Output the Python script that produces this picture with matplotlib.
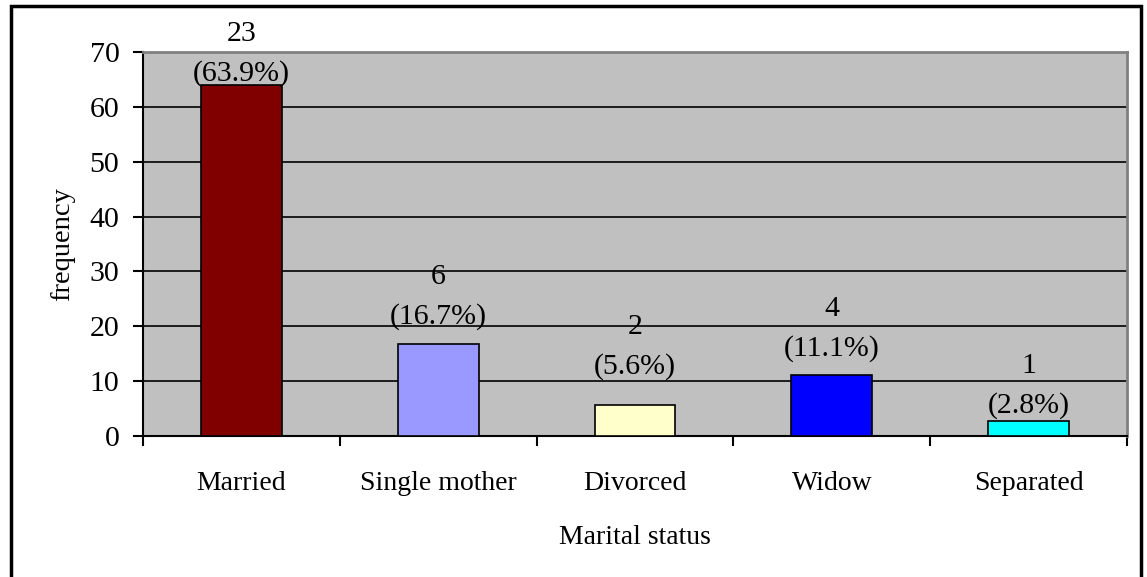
import matplotlib
matplotlib.use("Agg")
from matplotlib import pyplot as plt
from matplotlib.patches import Rectangle
import numpy as np

plt.rcParams["font.family"] = ["Liberation Serif", "DejaVu Serif"]

categories = ["Married", "Single mother", "Divorced", "Widow", "Separated"]
counts = [23, 6, 2, 4, 1]
percents = [63.9, 16.7, 5.6, 11.1, 2.8]
colors = ["#800000", "#9999FF", "#FFFFCC", "#0000FF", "#00FFFF"]
# label lift above bar top (points), as placed in the original
label_lift = [8.5, 20, 28, 19, 11]

fig = plt.figure(figsize=(11.47, 5.77), dpi=100)
ax = fig.add_axes([143 / 1147, 1 - 436 / 577, (1127 - 143) / 1147, (436 - 52) / 577])

# outer chart border
fig.patches.append(Rectangle((11 / 1147, -0.05), (1141 - 11) / 1147, 1.05 - 6 / 577,
                             transform=fig.transFigure, fill=False, edgecolor="black",
                             linewidth=2.5, zorder=0))

x = np.arange(len(categories))
ax.set_facecolor("#C0C0C0")
ax.bar(x, percents, width=0.41, color=colors, edgecolor="black", linewidth=1.2, zorder=3)

for xi, c, p, lift in zip(x, counts, percents, label_lift):
    ax.annotate(f"({p}%)", (xi, p), xytext=(0, lift), textcoords="offset points",
                ha="center", va="center", fontsize=21.5, zorder=4, annotation_clip=False)
    ax.annotate(f"{c}", (xi, p), xytext=(0, lift + 28.5), textcoords="offset points",
                ha="center", va="center", fontsize=21.5, zorder=4, annotation_clip=False)

ax.set_xlim(-0.5, len(categories) - 0.5)
ax.set_ylim(0, 70)
ax.set_yticks(np.arange(0, 71, 10))
ax.yaxis.grid(True, color="black", linewidth=1.2, zorder=1)
ax.set_axisbelow(True)

ax.set_xticks(x)
ax.set_xticklabels(categories, fontsize=20)
ax.set_xticks(np.arange(-0.5, len(categories), 1), minor=True)
ax.tick_params(axis="x", which="major", length=0, pad=25)
ax.tick_params(axis="x", which="minor", length=7, width=1.5, direction="out")
ax.tick_params(axis="y", labelsize=21.5, length=7, width=1.5, direction="out", pad=10)

for s in ["top", "right"]:
    ax.spines[s].set_color("#808080")
    ax.spines[s].set_linewidth(2)
for s in ["left", "bottom"]:
    ax.spines[s].set_color("black")
    ax.spines[s].set_linewidth(1.5)

ax.set_ylabel("frequency", fontsize=20.5, labelpad=10)
ax.set_xlabel("Marital status", fontsize=20, labelpad=21)

fig.savefig("out.png", dpi=100)
